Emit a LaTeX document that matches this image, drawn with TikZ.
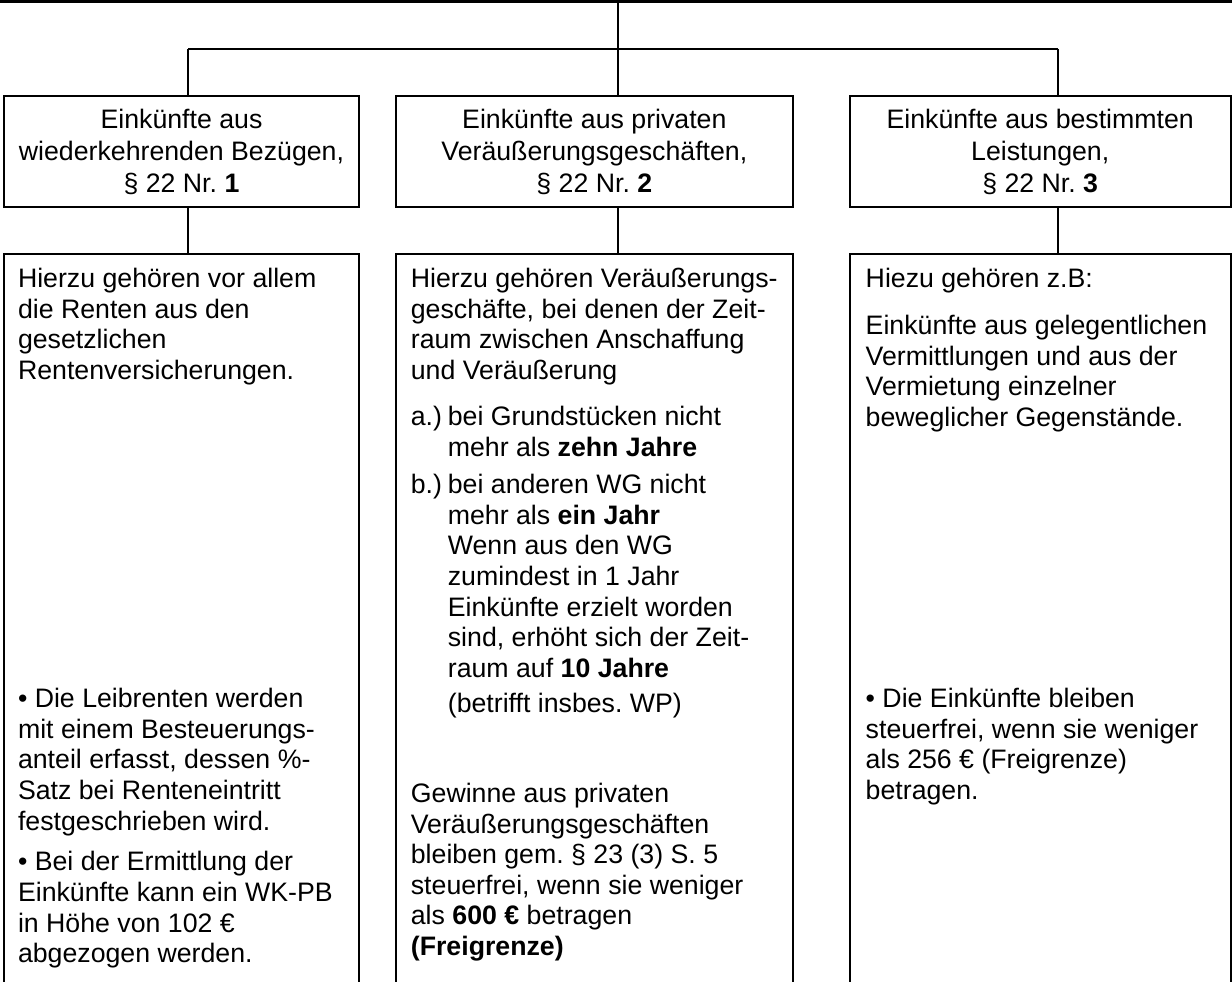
\documentclass[tikz,border=0pt]{standalone}
\usepackage{fontspec}
\setmainfont{Liberation Sans}
\usetikzlibrary{positioning}

\newcommand{\einr}{\hspace*{0.74cm}}
\newcommand{\marke}[1]{\makebox[0.74cm][l]{#1}}

\begin{document}
\frenchspacing
\begin{tikzpicture}[x=0.02cm, y=-0.02cm, line width=1.1pt]
	\tikzset{node distance=0.7cm,
		kopf/.style={draw, minimum height=2.22cm, inner sep=0pt, align=center, font=\fontsize{15.2}{18.2}\selectfont},
		inhalt/.style={draw, minimum height=15cm, inner sep=0pt},
		txt/.style={inner sep=0pt, align=left, font=\fontsize{15.2}{17.4}\selectfont}}

	\useasboundingbox (0,0) rectangle (1232,982);
	\clip (0,0) rectangle (1232,982);

	\node[kopf, minimum width=7.1cm] (k1) at (181.5,151.5) {Einkünfte aus\\wiederkehrenden Bezügen,\\§ 22 Nr. \textbf{1}};
	\node[kopf, minimum width=7.94cm, right=of k1] (k2) {Einkünfte aus privaten\\Veräußerungsgeschäften,\\§ 22 Nr. \textbf{2}};
	\node[kopf, minimum width=7.62cm, right=1.1cm of k2] (k3) {Einkünfte aus bestimmten\\Leistungen,\\§ 22 Nr. \textbf{3}};

	\node[inhalt, minimum width=7.1cm, below=0.9cm of k1] (i1) {};
	\node[inhalt, minimum width=7.94cm, below=0.9cm of k2] (i2) {};
	\node[inhalt, minimum width=7.62cm, below=0.9cm of k3] (i3) {};

	% Verbindungen oben
	\coordinate (links) at (0,1.5);
	\coordinate (rechts) at (1232,1.5);
	\coordinate (oben) at (618,0);
	\coordinate (v1) at (188,49);
	\coordinate (v2) at (618,49);
	\coordinate (v3) at (1058,49);
	\draw[line width=1.7pt] (links) -- (rechts);
	\draw (oben) -- (v2);
	\draw (v1) -- (v3);
	\foreach \n in {1,2,3} {
		\draw (v\n) -- (v\n |- k\n.north);
		\draw (v\n |- k\n.south) -- (v\n |- i\n.north);
	}

	% Texte
	\node[txt, below right=0.25cm and 0.28cm of i1.north west] (t1a) {\strut Hierzu gehören vor allem\\die Renten aus den\\gesetzlichen\\Rentenversicherungen.};
	\node[txt, below right=8.65cm and 0.28cm of i1.north west] (t1b) {\strut • Die Leibrenten werden\\mit einem Besteuerungs-\\anteil erfasst, dessen \%-\\Satz bei Renteneintritt\\festgeschrieben wird.\\[5.9pt]• Bei der Ermittlung der\\Einkünfte kann ein WK-PB\\in Höhe von 102 €\\abgezogen werden.};

	\node[txt, below right=0.25cm and 0.3cm of i2.north west] (t2a) {\strut Hierzu gehören Veräußerungs-\\geschäfte, bei denen der Zeit-\\raum zwischen Anschaffung\\und Veräußerung\\[8.8pt]\marke{a.)}bei Grundstücken nicht\\\einr mehr als \textbf{zehn Jahre}\\[4pt]\marke{b.)}bei anderen WG nicht\\\einr mehr als \textbf{ein Jahr}\\\einr Wenn aus den WG\\\einr zumindest in 1 Jahr\\\einr Einkünfte erzielt worden\\\einr sind, erhöht sich der Zeit-\\\einr raum auf \textbf{10 Jahre}\\[3pt]\einr (betrifft insbes. WP)};
	\node[txt, below right=10.55cm and 0.3cm of i2.north west] (t2b) {\strut Gewinne aus privaten\\Veräußerungsgeschäften\\bleiben gem. § 23 (3) S. 5\\steuerfrei, wenn sie weniger\\als \textbf{600 €} betragen\\\textbf{(Freigrenze)}};

	\node[txt, below right=0.25cm and 0.32cm of i3.north west] (t3a) {\strut Hiezu gehören z.B:\\[9.3pt]Einkünfte aus gelegentlichen\\Vermittlungen und aus der\\Vermietung einzelner\\beweglicher Gegenstände.};
	\node[txt, below right=8.65cm and 0.32cm of i3.north west] (t3b) {\strut • Die Einkünfte bleiben\\steuerfrei, wenn sie weniger\\als 256 € (Freigrenze)\\betragen.};
\end{tikzpicture}
\end{document}
